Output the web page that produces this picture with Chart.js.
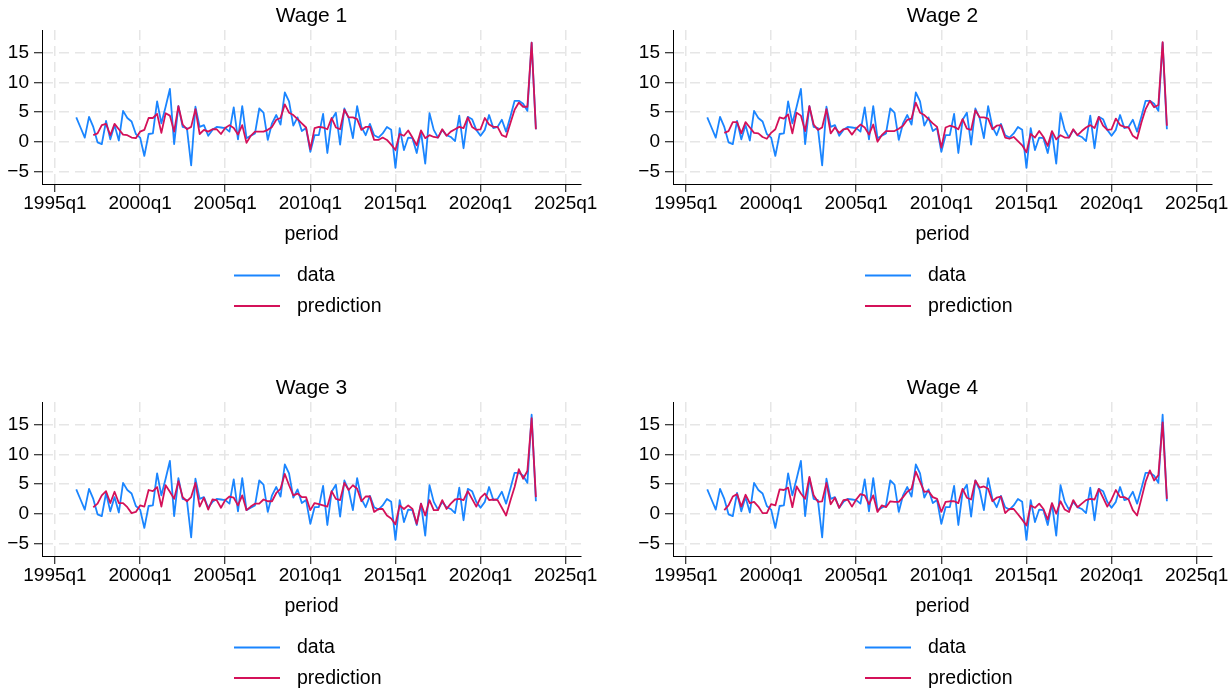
<!DOCTYPE html>
<html>
<head>
<meta charset="utf-8">
<title>Wage predictions</title>
<script src="https://cdn.jsdelivr.net/npm/chart.js@4/dist/chart.umd.min.js"></script>
<style>
  html, body { margin: 0; padding: 0; background: #fff; }
  #wrap { position: relative; width: 1230px; height: 692px; overflow: hidden; background: #fff; }
  .panel { position: absolute; width: 599px; height: 372px; }
  .panel canvas { display: block; }
</style>
</head>
<body>
<div id="wrap">
  <div class="panel" style="left:0px;top:0px"><canvas id="c1" width="599" height="372"></canvas></div>
  <div class="panel" style="left:631px;top:0px"><canvas id="c2" width="599" height="372"></canvas></div>
  <div class="panel" style="left:0px;top:372px"><canvas id="c3" width="599" height="372"></canvas></div>
  <div class="panel" style="left:631px;top:372px"><canvas id="c4" width="599" height="372"></canvas></div>
</div>
<script>
// Quarterly wage growth: observed series and four model predictions
const panelTitles = ['Wage 1', 'Wage 2', 'Wage 3', 'Wage 4'];
const seriesNames = ['data', 'prediction'];
const xAxisTitle = 'period';

const dataStart = '1996q2';
const predictionStart = '1997q2';

const dataValues = [
  4.1, 2.4, 0.7, 4.2, 2.5,
  -0.1, -0.4, 3.5, 0.4, 2.8, 0.2, 5.2, 4.0, 3.4, 1.3,
  0.7, -2.4, 1.3, 1.4, 6.8, 3.1, 5.9, 8.9, -0.4, 6.0,
  2.5, 2.3, -4.0, 5.9, 2.5, 2.8, 1.0, 2.0, 2.5, 2.4,
  2.3, 1.7, 5.8, 0.4, 6.0, 0.6, 1.0, 1.4, 5.6, 4.9,
  0.3, 3.1, 4.5, 2.9, 8.3, 6.8, 2.7, 4.1, 1.8, 2.3,
  -1.7, 1.1, 1.1, 4.7, -1.9, 3.7, 4.9, -0.5, 5.6, 4.0,
  0.6, 6.0, 2.5, 1.1, 3.0, 1.1, 0.7, 1.4, 2.5, 2.0,
  -4.4, 2.3, -1.4, 0.7, 0.6, -1.9, 1.7, -3.7, 4.8, 2.0,
  0.7, 2.0, 1.1, 0.8, 0.1, 4.4, -1.1, 4.2, 3.8, 2.0,
  1.0, 2.0, 4.5, 2.3, 2.5, 3.7, 1.7, 4.2, 6.9, 6.9,
  6.4, 5.2, 16.7, 2.1
];

const prediction1 = [
  1.1, 1.4, 2.8, 3.0, 1.1, 3.0, 2.1, 1.2, 1.1, 0.7, 0.6,
  1.7, 2.0, 4.0, 4.0, 4.7, 1.5, 4.8, 4.4, 1.7, 6.0,
  2.9, 2.1, 2.5, 5.5, 1.3, 2.0, 1.7, 2.1, 2.1, 1.3,
  2.3, 2.8, 2.3, 1.2, 2.8, -0.2, 1.0, 1.7, 1.7, 1.7,
  2.0, 2.5, 3.7, 4.0, 6.3, 4.9, 4.5, 3.8, 3.1, 2.4,
  -1.3, 2.3, 2.5, 2.4, 2.1, 4.0, 2.4, 2.1, 5.4, 4.1,
  4.1, 3.8, 2.0, 2.5, 2.5, 0.3, 0.3, 0.7, 0.3, -0.5,
  -1.4, 1.3, 1.0, 1.9, 0.7, -0.6, 1.9, 0.6, 1.1, 0.8,
  0.7, 2.1, 1.0, 1.7, 2.1, 2.5, 2.3, 4.1, 2.5, 2.0,
  2.1, 4.0, 2.9, 2.5, 2.5, 1.1, 0.8, 3.1, 5.4, 6.6,
  5.9, 5.9, 16.7, 2.1
];

const prediction2 = [
  1.5, 1.8, 3.3, 3.3, 1.4, 3.3, 2.4, 1.5, 1.4, 0.8, 0.5,
  1.5, 2.1, 4.1, 3.9, 4.6, 1.4, 4.9, 4.4, 1.8, 6.0,
  2.9, 2.0, 2.4, 5.5, 1.4, 2.4, 1.5, 2.1, 2.2, 1.2,
  2.2, 2.9, 2.4, 1.2, 2.9, 0.0, 1.1, 1.8, 1.8, 1.8,
  2.2, 2.7, 3.7, 3.9, 6.6, 4.9, 4.5, 3.8, 3.1, 2.5,
  -1.0, 2.4, 2.7, 2.5, 2.1, 3.8, 2.2, 2.0, 5.3, 4.1,
  4.1, 3.9, 2.1, 2.7, 2.8, 0.7, 0.5, 0.8, 0.1, -0.6,
  -1.8, 1.3, 0.7, 1.8, 0.8, -0.7, 1.8, 0.4, 1.1, 0.7,
  0.7, 2.1, 1.1, 1.8, 2.4, 2.8, 2.3, 4.2, 2.7, 2.0,
  2.1, 3.9, 2.8, 2.5, 2.4, 1.0, 0.5, 3.2, 5.5, 6.9,
  5.8, 6.2, 16.8, 2.7
];

const prediction3 = [
  1.1, 1.7, 3.1, 3.8, 1.8, 3.7, 1.8, 1.8, 1.1, 0.1, 0.3,
  1.4, 1.2, 4.0, 3.8, 4.5, 1.2, 4.8, 3.7, 2.5, 5.5,
  2.8, 2.1, 2.8, 5.2, 1.2, 2.7, 0.7, 2.4, 2.3, 1.0,
  2.3, 2.9, 2.7, 1.4, 3.1, 0.6, 1.2, 1.7, 1.7, 2.4,
  2.1, 2.1, 3.5, 4.2, 6.7, 4.8, 3.1, 3.4, 2.8, 2.8,
  0.6, 1.8, 1.6, 1.4, 1.2, 3.8, 2.5, 2.3, 5.2, 4.0,
  4.8, 4.2, 2.1, 2.9, 2.9, 0.3, 0.8, 0.8, -0.3, -0.8,
  -1.8, 1.4, 0.8, 1.4, 0.8, -1.7, 1.7, -0.3, 2.3, 0.6,
  0.6, 2.3, 0.8, 1.7, 2.4, 2.5, 2.3, 3.8, 2.5, 1.2,
  2.7, 3.4, 2.3, 2.4, 2.3, 1.0, -0.3, 2.2, 4.5, 7.5,
  5.9, 7.2, 16.1, 2.8
];

const prediction4 = [
  0.6, 1.4, 2.9, 3.3, 1.2, 3.2, 1.8, 2.0, 1.2, 0.1, 0.1,
  1.6, 1.4, 4.1, 4.0, 4.4, 1.1, 4.6, 3.4, 2.5, 6.2,
  3.1, 2.0, 2.1, 5.2, 1.6, 2.7, 1.0, 2.3, 2.4, 1.2,
  2.4, 3.3, 3.1, 1.6, 3.1, 0.3, 1.4, 1.1, 2.1, 2.0,
  2.0, 2.8, 3.7, 4.2, 7.1, 5.4, 3.7, 3.8, 2.8, 2.5,
  0.3, 2.0, 2.1, 2.1, 1.8, 4.2, 2.7, 2.4, 5.6, 4.4,
  4.6, 4.2, 2.1, 2.7, 2.9, 0.1, 0.8, 0.8, -0.1, -1.0,
  -2.0, 1.4, 1.0, 1.7, 0.8, -1.0, 1.8, 0.0, 2.1, 0.7,
  0.3, 2.3, 1.1, 1.7, 2.3, 2.5, 2.4, 4.2, 2.7, 1.2,
  2.4, 4.0, 2.8, 2.8, 2.4, 0.6, -0.3, 2.5, 5.4, 7.3,
  5.6, 6.5, 15.4, 2.5
];

const predictions = [prediction1, prediction2, prediction3, prediction4];

const xTickLabels = ['1995q1', '2000q1', '2005q1', '2010q1', '2015q1', '2020q1', '2025q1'];
const yTickValues = [-5, 0, 5, 10, 15];

// ---- helpers -------------------------------------------------------------
// Quarters are placed on a numeric axis counted from 1995q1.
const BASE_YEAR = 1995;
function quarterIndex(label) {
  const m = /^(\d{4})q([1-4])$/.exec(label);
  return (parseInt(m[1], 10) - BASE_YEAR) * 4 + (parseInt(m[2], 10) - 1);
}
function quarterLabel(idx) {
  const y = BASE_YEAR + Math.floor(idx / 4);
  const q = ((idx % 4) + 4) % 4 + 1;
  return y + 'q' + q;
}
function toPoints(start, values) {
  const s = quarterIndex(start);
  return values.map((v, i) => ({ x: s + i, y: v }));
}
const xTickPositions = xTickLabels.map(quarterIndex);
const fmtNumber = v => (v < 0 ? '\u2212' + Math.abs(v) : String(v));

const FONT = "'Liberation Sans', Arial, Helvetica, sans-serif";
const BLUE = '#1a85ff';
const RED = '#d41159';
const GRID = '#e6e6e6';

// Two-row legend below the x-axis title
const stackedLegend = {
  id: 'stackedLegend',
  afterDraw(chart) {
    const ctx = chart.ctx;
    const rows = [
      { text: seriesNames[0], color: BLUE, y: 275.5 },
      { text: seriesNames[1], color: RED, y: 306 }
    ];
    ctx.save();
    ctx.font = '19.5px ' + FONT;
    ctx.textBaseline = 'middle';
    ctx.textAlign = 'left';
    rows.forEach(r => {
      ctx.strokeStyle = r.color;
      ctx.lineWidth = 1.8;
      ctx.beginPath();
      ctx.moveTo(234, r.y);
      ctx.lineTo(280, r.y);
      ctx.stroke();
      ctx.fillStyle = '#000';
      ctx.fillText(r.text, 297, r.y + 0.5);
    });
    ctx.restore();
  }
};

function makePanel(canvasId, title, predValues) {
  const ctx = document.getElementById(canvasId).getContext('2d');
  return new Chart(ctx, {
    type: 'line',
    data: {
      datasets: [
        {
          label: seriesNames[0],
          data: toPoints(dataStart, dataValues),
          borderColor: BLUE,
          backgroundColor: BLUE,
          borderWidth: 1.8,
          pointRadius: 0,
          tension: 0,
          borderJoinStyle: 'round',
          order: 2
        },
        {
          label: seriesNames[1],
          data: toPoints(predictionStart, predValues),
          borderColor: RED,
          backgroundColor: RED,
          borderWidth: 1.8,
          pointRadius: 0,
          tension: 0,
          borderJoinStyle: 'round',
          order: 1
        }
      ]
    },
    options: {
      responsive: false,
      animation: false,
      devicePixelRatio: 1,
      layout: { padding: { left: 0, top: 0, right: 18, bottom: 118 } },
      plugins: {
        legend: { display: false },
        tooltip: { enabled: false },
        title: {
          display: true,
          text: title,
          fullSize: false,
          color: '#000',
          font: { family: FONT, size: 21, weight: 'normal', lineHeight: 1.2 },
          padding: { top: 3.3, bottom: 1.5 }
        }
      },
      scales: {
        x: {
          type: 'linear',
          min: -3.05,
          max: 123.6,
          afterBuildTicks: axis => { axis.ticks = xTickPositions.map(v => ({ value: v })); },
          afterFit: axis => { axis.height = 70; axis.paddingLeft = 0; axis.paddingRight = 0; },
          ticks: {
            autoSkip: false,
            maxRotation: 0,
            padding: 0,
            color: '#000',
            font: { family: FONT, size: 19, lineHeight: 1.2 },
            callback: v => quarterLabel(v)
          },
          grid: {
            color: GRID,
            lineWidth: 1.5,
            drawTicks: true,
            tickLength: 8,
            tickColor: '#000',
            tickWidth: 1
          },
          border: { display: true, color: '#000', width: 1, dash: [10, 6] },
          title: {
            display: true,
            text: xAxisTitle,
            color: '#000',
            font: { family: FONT, size: 19.5, lineHeight: 1.2 },
            padding: { top: 0, bottom: 8 }
          }
        },
        y: {
          type: 'linear',
          min: -7.13,
          max: 18.84,
          afterBuildTicks: axis => { axis.ticks = yTickValues.map(v => ({ value: v })); },
          afterFit: axis => { axis.width = 42; axis.paddingTop = 0; axis.paddingBottom = 0; },
          ticks: {
            padding: 5,
            color: '#000',
            font: { family: FONT, size: 19, lineHeight: 1.2 },
            callback: v => fmtNumber(v)
          },
          grid: {
            color: GRID,
            lineWidth: 1.5,
            drawTicks: true,
            tickLength: 8,
            tickColor: '#000',
            tickWidth: 1
          },
          border: { display: true, color: '#000', width: 1, dash: [10, 6] }
        }
      }
    },
    plugins: [stackedLegend]
  });
}

['c1', 'c2', 'c3', 'c4'].forEach((id, i) => makePanel(id, panelTitles[i], predictions[i]));
</script>
</body>
</html>
